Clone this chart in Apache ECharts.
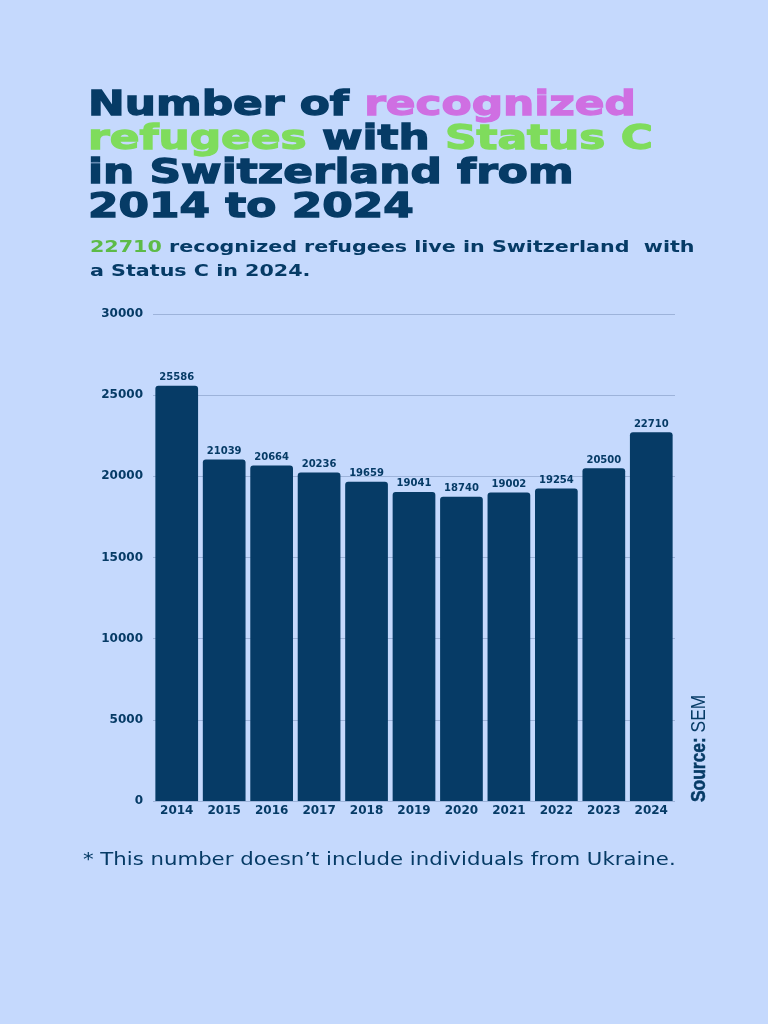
<!DOCTYPE html>
<html>
<head>
<meta charset="utf-8">
<script src="https://cdn.jsdelivr.net/npm/echarts@6/dist/echarts.min.js"></script>
<style>
  html, body { margin: 0; padding: 0; background: #c5d9fd; }
  #chart { width: 768px; height: 1024px; }
</style>
</head>
<body>
<div id="chart"></div>
<script>
const years = ["2014", "2015", "2016", "2017", "2018", "2019", "2020", "2021", "2022", "2023", "2024"];
const refugees = [25586, 21039, 20664, 20236, 19659, 19041, 18740, 19002, 19254, 20500, 22710];
const yTicks = [0, 5000, 10000, 15000, 20000, 25000, 30000];

const navy = "#063b66";
const pink = "#cf6fe2";
const green = "#7fdc5c";

const chart = echarts.init(document.getElementById("chart"));

// heading font is very wide and heavy: stretch it and thicken with a stroke
const head = (color) => ({
  fill: color, stroke: color, lineWidth: 1.3,
  fontFamily: "DejaVu Sans", fontWeight: "bold", fontSize: 34, lineHeight: 34,
});
const sub = (color) => ({
  fill: color,
  fontFamily: "DejaVu Sans", fontWeight: "bold", fontSize: 16, lineHeight: 24,
});

chart.setOption({
  backgroundColor: "#c5d9fd",
  graphic: [
    {
      type: "text",
      x: 88,
      y: 89,
      scaleX: 1.29,
      style: {
        text: "{n|Number of }{p|recognized}\n{g|refugees}{n| with }{g|Status C}\n{n|in Switzerland from}\n{n|2014 to 2024}",
        rich: { n: head(navy), p: head(pink), g: head(green) },
      },
    },
    {
      type: "text",
      x: 90,
      y: 236,
      scaleX: 1.29,
      style: {
        text: "{g|22710}{n| recognized refugees live in Switzerland  with}\n{n|a Status C in 2024.}",
        rich: { g: sub("#5dbb47"), n: sub(navy) },
      },
    },
    {
      type: "text",
      x: 83,
      y: 851,
      scaleX: 1.18,
      style: {
        text: "* This number doesn\u2019t include individuals from Ukraine.",
        fill: navy,
        fontFamily: "DejaVu Sans",
        fontWeight: "normal",
        fontSize: 18,
      },
    },
    {
      type: "text",
      x: 689,
      y: 802,
      rotation: Math.PI / 2,
      scaleX: 0.87,
      style: {
        text: "{b|Source:}{r| SEM}",
        rich: {
          b: { fill: navy, stroke: navy, lineWidth: 0.5, fontFamily: "Liberation Sans", fontWeight: "bold", fontSize: 20 },
          r: { fill: navy, fontFamily: "Liberation Sans", fontWeight: "normal", fontSize: 20 },
        },
      },
    },
  ],
  grid: { left: 153, right: 93, top: 314, bottom: 223 },
  xAxis: {
    type: "category",
    data: years,
    axisLine: { show: false },
    axisTick: { show: false },
    axisLabel: { color: navy, fontFamily: "DejaVu Sans", fontWeight: "bold", fontSize: 12, margin: 4 },
  },
  yAxis: {
    type: "value",
    min: yTicks[0],
    max: yTicks[yTicks.length - 1],
    interval: 5000,
    axisLine: { show: false },
    axisTick: { show: false },
    splitLine: { lineStyle: { color: "#9db3da", width: 1 } },
    axisLabel: {
      color: navy,
      fontFamily: "DejaVu Sans",
      fontWeight: "bold",
      fontSize: 12,
      margin: 10,
      formatter: (v) => String(v),
    },
  },
  series: [
    {
      type: "bar",
      data: refugees,
      barCategoryGap: "10%",
      itemStyle: { color: navy, borderRadius: [3, 3, 0, 0] },
      label: {
        show: true,
        position: "top",
        distance: 3,
        color: navy,
        fontFamily: "DejaVu Sans",
        fontWeight: "bold",
        fontSize: 10,
      },
    },
  ],
});
</script>
</body>
</html>
